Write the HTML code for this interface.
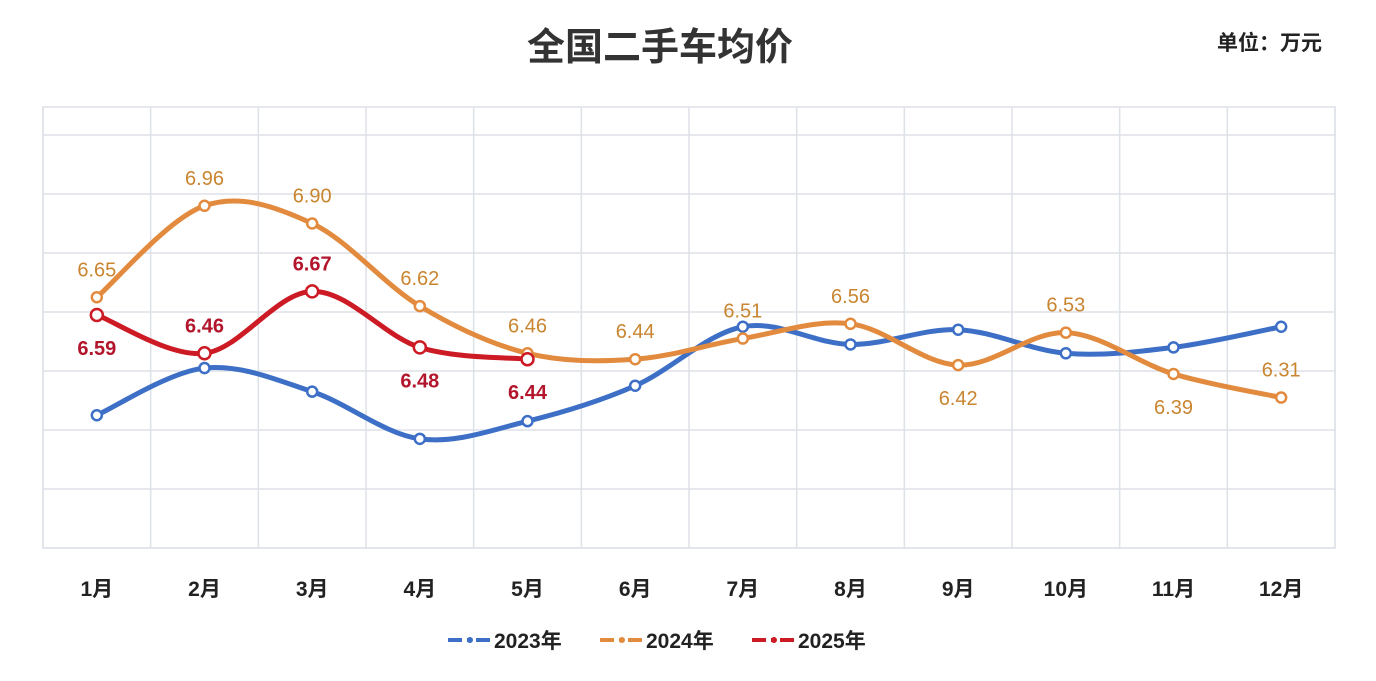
<!DOCTYPE html>
<html><head><meta charset="utf-8"><style>
body{margin:0;background:#fff;font-family:"Liberation Sans","Noto Sans CJK SC",sans-serif;}
svg text{font-family:"Liberation Sans","Noto Sans CJK SC",sans-serif;}
</style></head><body>
<svg id="chart" width="1376" height="676" viewBox="0 0 1376 676">
<text x="660" y="60" text-anchor="middle" font-size="38" font-weight="bold" fill="#333">全国二手车均价</text>
<text x="1322" y="50" text-anchor="end" font-size="21" font-weight="bold" fill="#222">单位：万元</text>
<g id="grid"></g>
<g id="series"></g>
<g id="xaxis"></g>
<g id="legend"></g>
</svg>
<script>
const months=["1月","2月","3月","4月","5月","6月","7月","8月","9月","10月","11月","12月"];
const s2023=[6.25,6.41,6.33,6.17,6.23,6.35,6.55,6.49,6.54,6.46,6.48,6.55];
const s2024=[6.65,6.96,6.90,6.62,6.46,6.44,6.51,6.56,6.42,6.53,6.39,6.31];
const s2025=[6.59,6.46,6.67,6.48,6.44];
const lbl2024Pos=[1,1,1,1,1,1,1,1,-1,1,-1,1];
const lbl2025Pos=[-1,1,1,-1,-1];
const yTicks=[5.8,6.0,6.2,6.4,6.6,6.8,7.0,7.2];
const NS="http://www.w3.org/2000/svg";
const L=43,R=1335,T=107,B=548,cw=(R-L)/12;
const X=i=>L+cw*(i+0.5);
const Y=v=>312-(v-6.6)*295;
function mk(t,a,p){const e=document.createElementNS(NS,t);for(const k in a)e.setAttribute(k,a[k]);p.appendChild(e);return e;}
const g=document.getElementById('grid');
const bg=mk('rect',{x:L,y:T,width:R-L,height:B-T,fill:'#fff',stroke:'#dde1e8','stroke-width':1.5},g);


yTicks.forEach(v=>{const y=Y(v);if(y<T||y>B)return;const l=mk('line',{x1:L,x2:R,y1:y,y2:y,stroke:'#dde1e8','stroke-width':1.5},g);

});
for(let i=0;i<=12;i++){const x=L+cw*i;const l=mk('line',{x1:x,x2:x,y1:T,y2:B,stroke:'#dde1e8','stroke-width':1.5},g);

}
const xa=document.getElementById('xaxis');
months.forEach((m,i)=>{const t=mk('text',{x:X(i),y:596,'text-anchor':'middle','font-size':21,'font-weight':'bold',fill:'#222'},xa);t.textContent=m;

});
function path(vals){const p=vals.map((v,i)=>[X(i),Y(v)]);let d=`M${p[0][0]},${p[0][1]}`;
for(let i=0;i<p.length-1;i++){const p0=p[i-1]||p[i],p1=p[i],p2=p[i+1],p3=p[i+2]||p2;
d+=` C${p1[0]+(p2[0]-p0[0])/6},${p1[1]+(p2[1]-p0[1])/6} ${p2[0]-(p3[0]-p1[0])/6},${p2[1]-(p3[1]-p1[1])/6} ${p2[0]},${p2[1]}`;}return d;}
const sg=document.getElementById('series');
function series(vals,color,name,labels,pos,lc,bold,r){
const gg=mk('g',{},sg);


const pa=mk('path',{d:path(vals),fill:'none',stroke:color,'stroke-width':5,'stroke-linecap':'round'},gg);


vals.forEach((v,i)=>{const c=mk('circle',{cx:X(i),cy:Y(v),r:r,fill:'#fff',stroke:color,'stroke-width':2.5},gg);


if(labels){const t=mk('text',{x:X(i),y:Y(v)+(pos[i]>0?-21:40),'text-anchor':'middle','font-size':20,'font-weight':bold?'bold':'normal',fill:lc},gg);t.textContent=v.toFixed(2);

}});}
series(s2023,'#3d6fc6','series-2023',false,null,null,false,5);
series(s2024,'#e28b3e','series-2024',true,lbl2024Pos,'#c98530',false,5);
series(s2025,'#cc1b25','series-2025',true,lbl2025Pos,'#b3162c',true,6);
const lg=document.getElementById('legend');
[["2023年",'#3d6fc6',448],["2024年",'#e28b3e',600],["2025年",'#cc1b25',752]].forEach(([n,c,x])=>{
const e=mk('g',{},lg);


mk('line',{x1:x,x2:x+44,y1:640,y2:640,stroke:c,'stroke-width':4,'stroke-dasharray':'14 5 4 5 14'},e);
mk('circle',{cx:x+22,cy:640,r:3,fill:c},e);
const t=mk('text',{x:x+46,y:648,'font-size':21,'font-weight':'bold',fill:'#222'},e);t.textContent=n;});
</script>
</body></html>
